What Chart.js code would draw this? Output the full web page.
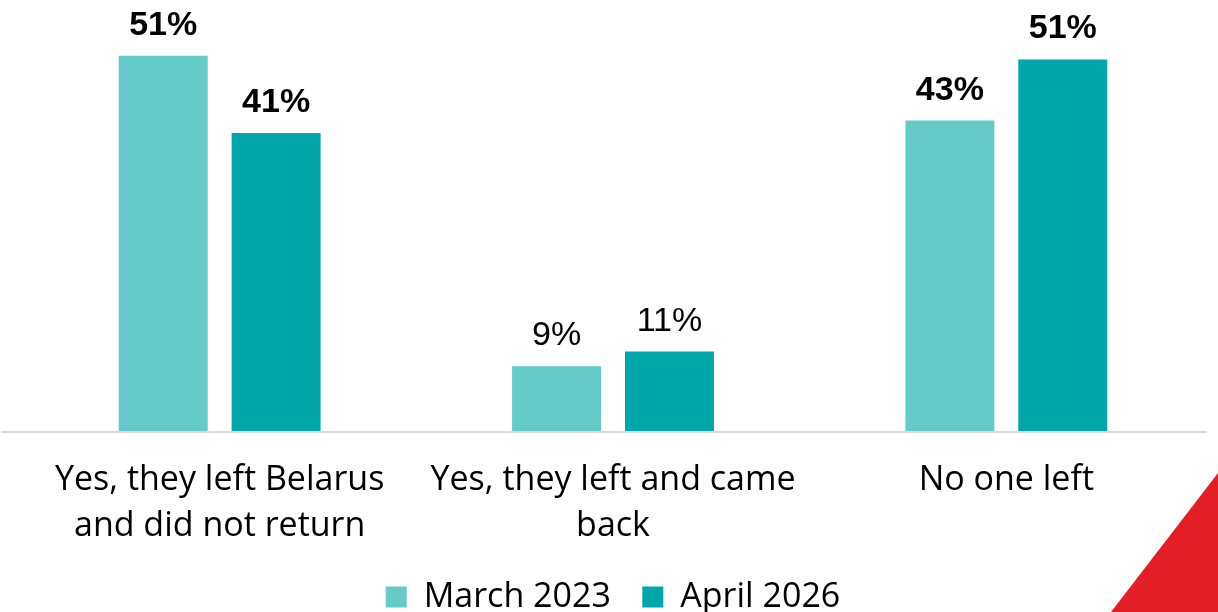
<!DOCTYPE html>
<html>
<head>
<meta charset="utf-8">
<script src="https://cdn.jsdelivr.net/npm/chart.js@4.4.1/dist/chart.umd.min.js"></script>
<style>
  html, body { margin: 0; padding: 0; background: #ffffff; }
  #wrap { position: relative; width: 1218px; height: 612px; overflow: hidden; }
</style>
</head>
<body>
<div id="wrap"><canvas id="c" width="1218" height="612"></canvas></div>
<script>
const categories = [
  ['Yes, they left Belarus', 'and did not return'],
  ['Yes, they left and came', 'back'],
  ['No one left']
];
const seriesNames = ['March 2023', 'April 2026'];
const march2023 = [51.5, 8.9, 42.6];
const april2026 = [40.9, 10.9, 51.0];
const march2023Labels = ['51%', '9%', '43%'];
const april2026Labels = ['41%', '11%', '51%'];

const valueLabels = [march2023Labels, april2026Labels];

const dataLabelPlugin = {
  id: 'dataLabels',
  afterDatasetsDraw(chart) {
    const ctx = chart.ctx;
    ctx.save();
    ctx.textAlign = 'center';
    ctx.textBaseline = 'alphabetic';
    ctx.fillStyle = '#000000';
    chart.data.datasets.forEach((ds, i) => {
      const meta = chart.getDatasetMeta(i);
      meta.data.forEach((bar, j) => {
        const v = ds.data[j];
        const bold = v >= 20;
        ctx.font = (bold ? 'bold ' : '') + '34px "Liberation Sans", Arial, sans-serif';
        ctx.fillText(valueLabels[i][j], bar.x, bar.y - 21);
      });
    });
    ctx.restore();
  }
};

const decorPlugin = {
  id: 'decor',
  beforeDatasetsDraw(chart) {
    const ctx = chart.ctx;
    const y = chart.scales.y.getPixelForValue(0);
    ctx.save();
    ctx.strokeStyle = '#d9d9d9';
    ctx.lineWidth = 2;
    ctx.beginPath();
    ctx.moveTo(1, y + 1);
    ctx.lineTo(1207, y + 1);
    ctx.stroke();
    ctx.restore();
  },
  afterDraw(chart) {
    const ctx = chart.ctx;
    const w = chart.width, h = chart.height;
    ctx.save();
    ctx.fillStyle = '#e31e26';
    ctx.beginPath();
    ctx.moveTo(w, 473);
    ctx.lineTo(w, h);
    ctx.lineTo(1111, h);
    ctx.closePath();
    ctx.fill();
    ctx.restore();
  }
};

new Chart(document.getElementById('c'), {
  type: 'bar',
  data: {
    labels: categories,
    datasets: [
      { label: seriesNames[0], data: march2023, backgroundColor: '#64CBC9' },
      { label: seriesNames[1], data: april2026, backgroundColor: '#01A6A8' }
    ]
  },
  options: {
    responsive: false,
    animation: false,
    devicePixelRatio: 1,
    categoryPercentage: 0.574,
    barPercentage: 0.788,
    layout: { padding: { top: 4, left: 23, right: 15, bottom: -12 } },
    scales: {
      x: {
        grid: { display: false, drawTicks: false },
        border: { display: false },
        ticks: {
          color: '#000000',
          padding: 26,
          maxRotation: 0,
          autoSkip: false,
          font: { family: '"Open Sans", sans-serif', size: 34, lineHeight: 1.353 }
        }
      },
      y: {
        display: false,
        min: 0,
        max: 58.6
      }
    },
    plugins: {
      tooltip: { enabled: false },
      legend: {
        position: 'bottom',
        labels: {
          color: '#000000',
          boxWidth: 21,
          boxHeight: 21,
          padding: 5,
          font: { family: '"Open Sans", sans-serif', size: 34 },
          generateLabels(chart) {
            const items = Chart.defaults.plugins.legend.labels.generateLabels(chart);
            items.forEach((it, i) => {
              if (i < items.length - 1) it.text = it.text + '   ';
            });
            return items;
          }
        }
      }
    }
  },
  plugins: [dataLabelPlugin, decorPlugin]
});
</script>
</body>
</html>
